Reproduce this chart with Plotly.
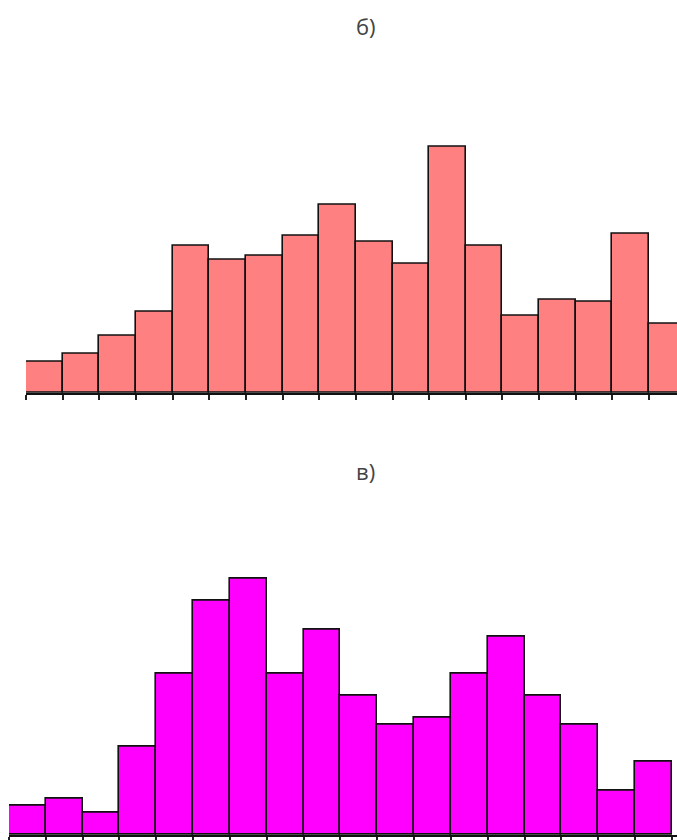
import plotly.graph_objects as go

# Data
bins = list(range(18))
top_counts = [7.8, 9.8, 14.3, 20.3, 36.8, 33.3, 34.3, 39.3, 47.3, 37.8, 32.3, 61.8, 36.8, 19.3, 23.3, 22.8, 39.8, 17.3]
bottom_counts = [4, 5, 3, 12, 22, 32, 35, 22, 28, 19, 15, 16, 22, 27, 19, 15, 6, 10]
titles = ["б)", "в)"]

W, H = 677, 840
MB = 3
PH = H - MB  # plot area height in px


def py(pix):
    return (PH - pix) / PH


def px(pix):
    return pix / W


fig = go.Figure()
fig.add_trace(go.Bar(x=bins, y=top_counts, width=1, xaxis="x", yaxis="y",
                     marker=dict(color="#FF8080", line=dict(color="#111111", width=1.6)),
                     showlegend=False, hoverinfo="skip"))
fig.add_trace(go.Bar(x=bins, y=bottom_counts, width=1, xaxis="x2", yaxis="y2",
                     marker=dict(color="#FF00FF", line=dict(color="#111111", width=1.6)),
                     showlegend=False, hoverinfo="skip"))

edges = [b - 0.5 for b in bins] + [bins[-1] + 0.5]

# page-pixel geometry
top_left, top_bw, top_base, top_ppu, top_top = 26, 36.65, 394, 4.0, 100
bot_left, bot_bw, bot_base, bot_ppu, bot_top = 9, 36.83, 837, 7.35, 540

axis_common = dict(showgrid=False, zeroline=False, showticklabels=False,
                   ticks="outside", ticklen=5, tickwidth=1.5, tickcolor="#222",
                   showline=True, linecolor="#111", linewidth=1.5,
                   tickmode="array", tickvals=edges)

fig.update_layout(
    width=W, height=H,
    margin=dict(l=0, r=0, t=0, b=MB),
    paper_bgcolor="white", plot_bgcolor="white",
    bargap=0,
    xaxis=dict(domain=[px(top_left), 1],
               range=[-0.5, -0.5 + (W - top_left) / top_bw],
               anchor="y", **axis_common),
    yaxis=dict(domain=[py(top_base), py(top_top)],
               range=[0, (top_base - top_top) / top_ppu],
               visible=False, anchor="x"),
    xaxis2=dict(domain=[px(bot_left), 1],
                range=[-0.5, -0.5 + (W - bot_left) / bot_bw],
                anchor="y2", **axis_common),
    yaxis2=dict(domain=[py(bot_base), py(bot_top)],
                range=[0, (bot_base - bot_top) / bot_ppu],
                visible=False, anchor="x2"),
    annotations=[
        dict(text=titles[0], x=px(366), y=py(26), xref="paper", yref="paper",
             xanchor="center", yanchor="middle", showarrow=False,
             font=dict(family="Open Sans", size=22, color="#444")),
        dict(text=titles[1], x=px(366), y=py(472), xref="paper", yref="paper",
             xanchor="center", yanchor="middle", showarrow=False,
             font=dict(family="Open Sans", size=22, color="#444")),
    ],
)

fig.write_html(
    "out.html",
    config={"displayModeBar": False},
    post_script="document.body.style.margin='0';document.body.style.overflow='hidden';",
)
